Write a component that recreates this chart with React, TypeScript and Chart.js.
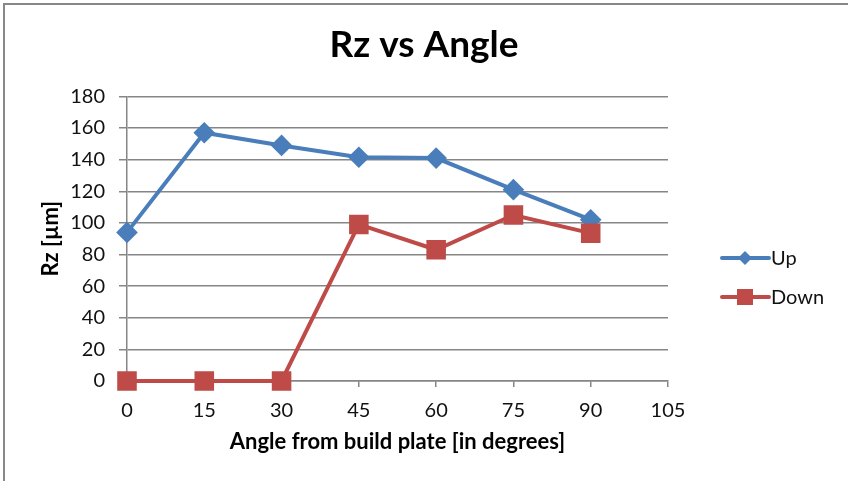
import React, { useEffect, useRef } from "react";
import { Chart, registerables } from "chart.js";

Chart.register(...registerables);

const angles = [0, 15, 30, 45, 60, 75, 90];
const upValues = [94, 157, 149, 141.5, 141, 121, 102];
const downValues = [0, 0, 0, 99, 83, 105, 93.5];
const seriesNames = ["Up", "Down"];
const titleText = "Rz vs Angle";
const xTitle = "Angle from build plate [in degrees]";
const yTitle = "Rz [µm]";

const FONT = "Lato, 'Open Sans', sans-serif";

const centerTitlePlugin = {
  id: "centerTitle",
  afterLayout(chart: any) {
    const tb = chart.titleBlock;
    if (tb) {
      tb.left = 0;
      tb.right = chart.width;
      tb.width = chart.width;
    }
  },
};

const legendPlugin = {
  id: "sideLegend",
  afterDraw(chart: any) {
    const ctx = chart.ctx;
    const area = chart.chartArea;
    const cx = area.right + 77;
    const ys = [258, 297];
    chart.data.datasets.forEach((ds: any, i: number) => {
      const y = ys[i];
      ctx.save();
      ctx.strokeStyle = ds.borderColor;
      ctx.lineWidth = 4;
      ctx.lineCap = "round";
      ctx.beginPath();
      ctx.moveTo(cx - 23, y);
      ctx.lineTo(cx + 24, y);
      ctx.stroke();
      ctx.fillStyle = ds.pointBackgroundColor;
      if (ds.pointStyle === "rectRot") {
        const r = 7;
        ctx.beginPath();
        ctx.moveTo(cx, y - r);
        ctx.lineTo(cx + r, y);
        ctx.lineTo(cx, y + r);
        ctx.lineTo(cx - r, y);
        ctx.closePath();
        ctx.fill();
      } else {
        const s = 16;
        ctx.fillRect(cx - s / 2, y - s / 2, s, s);
      }
      ctx.fillStyle = "#111";
      ctx.font = `20px ${FONT}`;
      ctx.textAlign = "left";
      ctx.textBaseline = "middle";
      ctx.fillText(ds.label, cx + 26, y + 1);
      ctx.restore();
    });
  },
};

export default function App() {
  const ref = useRef<HTMLCanvasElement>(null);
  useEffect(() => {
    if (!ref.current) return;
    const chart = new Chart(ref.current, {
      type: "line",
      data: {
        datasets: [
          {
            label: seriesNames[0],
            data: angles.map((a, i) => ({ x: a, y: upValues[i] })),
            borderColor: "#4A7EBB",
            backgroundColor: "#4A7EBB",
            pointBackgroundColor: "#4A7EBB",
            pointBorderColor: "#4A7EBB",
            pointStyle: "rectRot",
            pointRadius: 8,
            borderWidth: 4,
            tension: 0,
            clip: false,
            order: 1,
          },
          {
            label: seriesNames[1],
            data: angles.map((a, i) => ({ x: a, y: downValues[i] })),
            borderColor: "#BE4B48",
            backgroundColor: "#BE4B48",
            pointBackgroundColor: "#BE4B48",
            pointBorderColor: "#BE4B48",
            pointStyle: "rect",
            pointRadius: 11,
            borderWidth: 4,
            tension: 0,
            clip: false,
            order: 0,
          },
        ] as any,
      },
      options: {
        animation: false,
        responsive: false,
        layout: { padding: { left: 38, right: 180, top: 0, bottom: 26 } },
        plugins: {
          legend: { display: false },
          tooltip: { enabled: false },
          title: {
            display: true,
            text: titleText,
            color: "#000",
            font: { family: FONT, size: 37, weight: "bold" },
            padding: { top: 23, bottom: 29 },
          },
        },
        scales: {
          x: {
            type: "linear",
            min: 0,
            max: 105,
            afterFit(scale: any) {
              scale.height = 74;
            },
            ticks: {
              stepSize: 15,
              color: "#111",
              font: { family: FONT, size: 20 },
              padding: 12,
            },
            grid: {
              drawOnChartArea: false,
              drawTicks: true,
              tickLength: 6,
              color: "#868686",
              lineWidth: 1.5,
            },
            border: { color: "#868686", width: 1.5 },
            title: {
              display: true,
              text: xTitle,
              color: "#000",
              font: { family: FONT, size: 22, weight: "bold" },
              padding: { top: 7, bottom: 0 },
            },
          },
          y: {
            min: 0,
            max: 180,
            afterFit(scale: any) {
              scale.width = 89;
            },
            ticks: {
              stepSize: 20,
              color: "#111",
              font: { family: FONT, size: 20 },
              padding: 14,
            },
            grid: {
              color: "#868686",
              lineWidth: 1.5,
              tickLength: 8,
            },
            border: { color: "#868686", width: 1.5 },
            title: {
              display: true,
              text: yTitle,
              color: "#000",
              font: { family: FONT, size: 22, weight: "bold" },
              padding: { top: 0, bottom: 7 },
            },
          },
        },
      },
      plugins: [centerTitlePlugin, legendPlugin],
    });
    return () => chart.destroy();
  }, []);

  return (
    <div style={{ position: "fixed", left: 0, top: 0, width: 848, height: 481, background: "#fff" }}>
      <div
        style={{
          position: "absolute",
          left: 3,
          top: 3,
          right: 0,
          bottom: 0,
          borderTop: "2px solid #888",
          borderLeft: "2px solid #888",
        }}
      />
      <canvas ref={ref} width={848} height={481} style={{ position: "absolute", left: 0, top: 0 }} />
    </div>
  );
}
